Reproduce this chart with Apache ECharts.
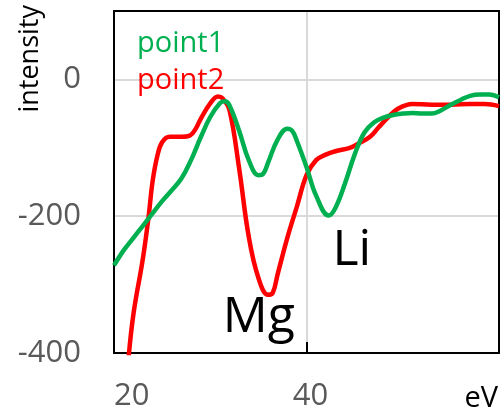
<!DOCTYPE html>
<html>
<head>
<meta charset="utf-8">
<script src="https://cdn.jsdelivr.net/npm/echarts@6/dist/echarts.min.js"></script>
<style>html,body{margin:0;padding:0;background:#fff}#c{width:500px;height:418px}</style>
</head>
<body>
<div id="c"></div>
<script>
// x ticks shown: 20, 40 ; y ticks: -400, -200, 0
const xTicks = [20, 40, 60];
const yTicks = [-400, -200, 0];

const point1X = [20, 21, 22, 23, 24, 25, 26, 27, 28, 29, 30, 31, 31.5, 32, 33, 34, 35, 35.5, 36, 37, 38, 38.5, 39, 40, 41, 42.3, 43, 44, 45, 46, 47, 48, 49, 50, 51, 52, 53, 54, 55, 56, 57, 58, 59, 60];
const point1Y = [-272, -250, -232, -214, -196, -178, -162, -145, -118, -85, -55, -35, -32, -38, -75, -118, -140, -138, -122, -88, -72, -75, -90, -128, -170, -199, -188, -152, -110, -78, -63, -56, -52, -50, -49, -50, -50, -45, -37, -30, -24, -22, -22, -26];

const point2X = [21.4, 22, 23, 23.6, 24, 24.5, 25, 25.8, 27, 27.9, 28.5, 29, 30, 30.8, 31.3, 32, 33, 34, 35, 36, 36.5, 37, 38, 39, 40, 41, 42, 43, 44.5, 45.5, 46.6, 47.5, 48.5, 49.5, 51, 53, 55, 57, 58.5, 60];
const point2Y = [-425, -345, -262, -200, -150, -112, -92, -84, -84, -82, -72, -58, -35, -25, -28, -45, -130, -230, -290, -315, -312, -285, -232, -186, -140, -118, -110, -105, -100, -93, -84, -70, -55, -43, -36, -37, -37, -36, -36, -39];

const annotations = [
  { text: 'Mg', x: 35.05, y: -349 },
  { text: 'Li', x: 44.7, y: -250 }
];

const FONT = 'Open Sans';
const chart = echarts.init(document.getElementById('c'), null, { renderer: 'canvas' });
const zip = (xs, ys) => xs.map((x, i) => [x, ys[i]]);
const frameLine = { show: true, onZero: false, lineStyle: { color: '#000', width: 2 } };

chart.setOption({
  animation: false,
  backgroundColor: '#fff',
  textStyle: { fontFamily: FONT },
  grid: { left: 114, top: 11, right: 1, bottom: 65, containLabel: false },
  legend: {
    orient: 'vertical', left: 126, top: 24, itemWidth: 0, itemHeight: 0, itemGap: 8,
    selectedMode: false,
    textStyle: { fontSize: 29, fontFamily: FONT },
    data: [
      { name: 'point1', textStyle: { color: '#00b050' } },
      { name: 'point2', textStyle: { color: '#ff0000' } }
    ]
  },
  xAxis: [{
    type: 'value', min: xTicks[0], max: xTicks[xTicks.length - 1], interval: 20,
    axisLine: frameLine,
    axisTick: { show: true, inside: true, length: 11, lineStyle: { color: '#000', width: 2 } },
    splitLine: { show: true, lineStyle: { color: '#d9d9d9', width: 2 } },
    axisLabel: {
      showMaxLabel: false, alignMinLabel: 'left', margin: 28,
      fontSize: 31, color: '#595959', fontFamily: FONT,
      formatter: v => (v === 40 ? '{p|' + v + '}' : '{n|' + v + '}'),
      rich: { p: { fontSize: 31, color: '#595959', padding: [0, 0, 0, 8] }, n: { fontSize: 31, color: '#595959' } }
    }
  }, {
    type: 'value', position: 'top', min: xTicks[0], max: xTicks[xTicks.length - 1],
    axisLine: frameLine, axisTick: { show: false }, axisLabel: { show: false }, splitLine: { show: false }
  }],
  yAxis: [{
    type: 'value', min: yTicks[0], max: 100, interval: 200,
    axisLine: frameLine,
    axisTick: { show: false },
    splitLine: { show: true, lineStyle: { color: '#d9d9d9', width: 2 } },
    axisLabel: { showMaxLabel: false, margin: 33, fontSize: 31, color: '#595959', fontFamily: FONT }
  }, {
    type: 'value', position: 'right', min: yTicks[0], max: 100,
    axisLine: frameLine, axisTick: { show: false }, axisLabel: { show: false }, splitLine: { show: false }
  }],
  graphic: [
    { type: 'text', left: 17, top: 5, rotation: Math.PI / 2, style: { text: 'intensity', fontSize: 27, fontFamily: FONT, fill: '#000' } },
    { type: 'text', right: 2, top: 384, style: { text: 'eV', fontSize: 29, fontFamily: FONT, fill: '#000' } }
  ],
  series: [
    {
      name: 'point1', type: 'line', data: zip(point1X, point1Y), smooth: 0.4, showSymbol: false, symbol: 'none', z: 3,
      lineStyle: { color: '#00b050', width: 4.5 }, itemStyle: { color: '#00b050' }
    },
    {
      name: 'point2', type: 'line', data: zip(point2X, point2Y), smooth: 0.4, showSymbol: false, symbol: 'none', z: 2,
      lineStyle: { color: '#ff0000', width: 4.5 }, itemStyle: { color: '#ff0000' },
      markPoint: {
        symbol: 'circle', symbolSize: 0, silent: true,
        label: { show: true, position: 'inside', fontSize: 50, fontFamily: FONT, color: '#000', formatter: p => p.name },
        data: annotations.map(a => ({ name: a.text, coord: [a.x, a.y] }))
      }
    }
  ]
});
</script>
</body>
</html>
